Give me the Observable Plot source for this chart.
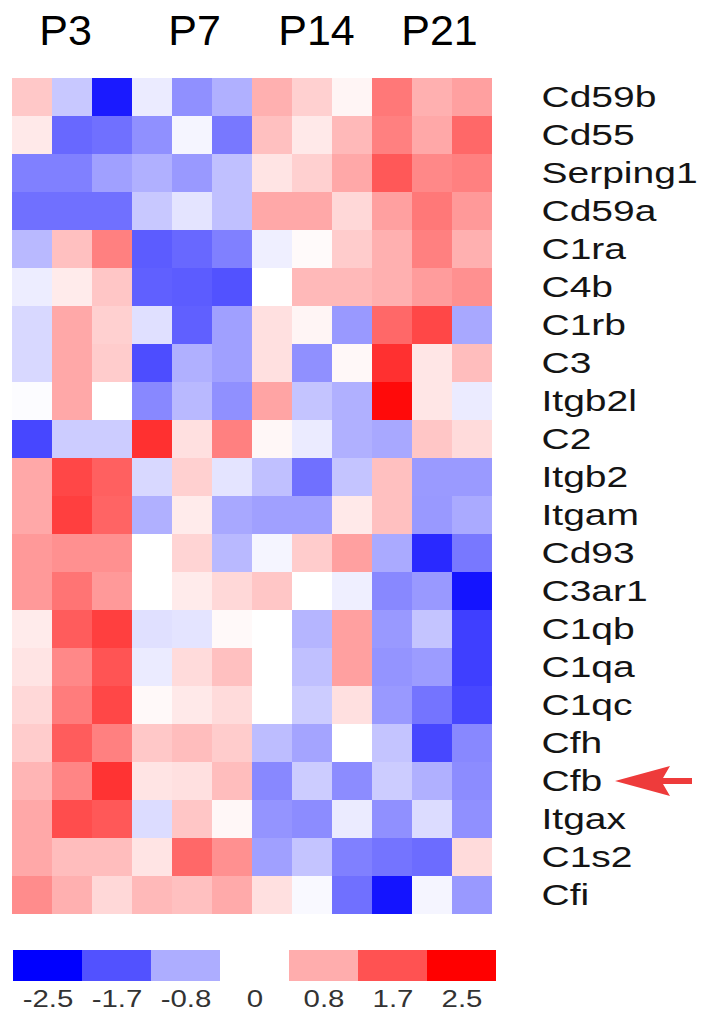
<!DOCTYPE html>
<html>
<head>
<meta charset="utf-8">
<script src="https://cdn.jsdelivr.net/npm/d3@7"></script>
<script src="https://cdn.jsdelivr.net/npm/@observablehq/plot@0.6"></script>
<style>
  html, body { margin: 0; padding: 0; background: #ffffff; }
  #chart { width: 709px; }
  #chart svg { display: block; }
</style>
</head>
<body>
<div id="chart"></div>
<script>
// ---- data ----
const groups = ["P3", "P7", "P14", "P21"];
const samples = ["P3_1","P3_2","P3_3","P7_1","P7_2","P7_3","P14_1","P14_2","P14_3","P21_1","P21_2","P21_3"];
const genes = ["Cd59b","Cd55","Serping1","Cd59a","C1ra","C4b","C1rb","C3","Itgb2l","C2",
               "Itgb2","Itgam","Cd93","C3ar1","C1qb","C1qa","C1qc","Cfh","Cfb","Itgax","C1s2","Cfi"];
const expr = [
  [ 0.54,-0.54,-2.25,-0.20,-1.09,-0.77, 0.77, 0.46, 0.10, 1.32, 0.77, 0.93],
  [ 0.22,-1.48,-1.40,-1.09,-0.10,-1.32, 0.62, 0.22, 0.69, 1.25, 0.85, 1.48],
  [-1.25,-1.25,-0.93,-0.77,-1.00,-0.62, 0.26, 0.46, 0.85, 1.64, 1.17, 1.25],
  [-1.40,-1.40,-1.40,-0.54,-0.26,-0.62, 0.85, 0.85, 0.38, 0.93, 1.32, 1.00],
  [-0.69, 0.62, 1.25,-1.60,-1.48,-1.25,-0.16, 0.05, 0.50, 0.77, 1.25, 0.77],
  [-0.18, 0.20, 0.56,-1.56,-1.60,-1.70, 0.00, 0.69, 0.69, 0.77, 0.97, 1.09],
  [-0.38, 0.85, 0.46,-0.30,-1.56,-0.93, 0.30, 0.10,-1.00, 1.48, 1.80,-0.85],
  [-0.38, 0.85, 0.50,-1.75,-0.77,-0.93, 0.30,-1.09, 0.07, 2.03, 0.25, 0.65],
  [-0.03, 0.85, 0.00,-1.17,-0.69,-1.09, 0.89,-0.58,-0.77, 2.40, 0.25,-0.20],
  [-1.80,-0.50,-0.50, 2.03, 0.30, 1.25, 0.08,-0.20,-0.77,-0.85, 0.56, 0.35],
  [ 0.85, 1.80, 1.56,-0.38, 0.46,-0.26,-0.62,-1.40,-0.58, 0.62,-0.99,-0.99],
  [ 0.85, 1.88, 1.52,-0.77, 0.20,-0.85,-0.93,-0.93, 0.22, 0.62,-1.00,-0.83],
  [ 1.00, 1.09, 1.09, 0.00, 0.42,-0.69,-0.10, 0.50, 0.93,-0.83,-2.10,-1.32],
  [ 1.00, 1.36, 1.00, 0.00, 0.20, 0.38, 0.56, 0.00,-0.16,-1.17,-1.00,-2.30],
  [ 0.20, 1.60, 1.88,-0.30,-0.26, 0.06, 0.00,-0.73, 0.93,-1.00,-0.58,-1.88],
  [ 0.26, 1.17, 1.68,-0.20, 0.35, 0.62, 0.00,-0.62, 0.93,-1.05,-0.97,-1.88],
  [ 0.38, 1.28, 1.80, 0.06, 0.22, 0.35, 0.00,-0.50, 0.30,-1.00,-1.36,-1.80],
  [ 0.50, 1.60, 1.25, 0.54, 0.65, 0.50,-0.65,-0.89, 0.00,-0.58,-1.80,-1.17],
  [ 0.73, 1.20, 2.00, 0.26, 0.30, 0.65,-1.17,-0.50,-1.13,-0.50,-0.77,-1.13],
  [ 0.85, 1.75, 1.64,-0.34, 0.56, 0.08,-1.05,-1.13,-0.20,-1.09,-0.34,-1.09],
  [ 0.85, 0.65, 0.65, 0.26, 1.48, 1.09,-0.93,-0.58,-1.25,-1.36,-1.44, 0.35],
  [ 1.13, 0.77, 0.38, 0.69, 0.62, 0.83, 0.30,-0.06,-1.40,-2.30,-0.10,-1.00]
];
const legendValues = [-2.5, -1.7, -0.8, 0, 0.8, 1.7, 2.5];
const markedGene = "Cfb";

// ---- build table ----
const cells = [];
genes.forEach((g, r) => samples.forEach((s, c) => cells.push({gene: g, sample: s, value: expr[r][c]})));

const colorScale = {
  type: "linear",
  domain: [-2.5, 0, 2.5],
  range: ["#0000ff", "#ffffff", "#ff0000"],
  interpolate: "rgb",
  clamp: true
};
const font = "'Liberation Sans', Arial, Helvetica, sans-serif";
const headerShift = [-7, 2, 4, 7];

function stretch(nodes, k) {
  nodes.forEach(t => {
    const x = t.getAttribute("x");
    if (x != null) t.setAttribute("x", (+x) / k);
    const tr = t.getAttribute("transform") || "";
    t.setAttribute("transform", (tr + ` scale(${k},1)`).trim());
  });
}

// arrow annotation pointing at the marked gene
function arrowMark(index, scales, values, dims) {
  const yc = scales.y(markedGene) + scales.y.bandwidth() / 2;
  const x0 = dims.width - dims.marginRight;
  const tip = x0 + 123, head = x0 + 178, back = x0 + 171, tail = x0 + 200;
  const p = d3.path();
  p.moveTo(tip, yc);
  p.lineTo(head, yc - 15);
  p.lineTo(back, yc - 3);
  p.lineTo(tail, yc - 3);
  p.lineTo(tail, yc + 3);
  p.lineTo(back, yc + 3);
  p.lineTo(head, yc + 15);
  p.closePath();
  const el = d3.create("svg:path").attr("d", p.toString()).attr("fill", "#ee3b3b");
  return el.node();
}

const heat = Plot.plot({
  width: 709,
  height: 930,
  marginLeft: 12,
  marginRight: 217,
  marginTop: 72,
  marginBottom: 11,
  style: {fontFamily: font, color: "#141414", background: "#ffffff"},
  x: {type: "band", domain: samples, padding: 0, axis: null},
  y: {type: "band", domain: genes, padding: 0},
  color: colorScale,
  marks: [
    Plot.cell(cells, {x: "sample", y: "gene", fill: "value", inset: 0, shapeRendering: "crispEdges"}),
    Plot.axisY({anchor: "right", tickSize: 0, tickPadding: 49, fontSize: 30, label: null, fill: "#141414"}),
    ...groups.map((g, i) => Plot.text([g], {
      x: () => samples[i * 3 + 1],
      frameAnchor: "top",
      lineAnchor: "bottom",
      dy: -28,
      dx: headerShift[i],
      text: d => d,
      fontSize: 43,
      fill: "#000000"
    })),
    arrowMark
  ]
});

const legend = Plot.plot({
  width: 709,
  height: 89,
  marginLeft: 11,
  marginRight: 212,
  marginTop: 20,
  marginBottom: 38,
  style: {fontFamily: font, color: "#333333", background: "#ffffff"},
  x: {type: "band", domain: legendValues, padding: 0, axis: null},
  color: colorScale,
  marks: [
    Plot.cell(legendValues.filter(v => v !== 0), {x: d => d, fill: d => d, inset: 0, shapeRendering: "crispEdges"}),
    Plot.text(legendValues, {x: d => d, frameAnchor: "bottom", lineAnchor: "middle", dy: 18,
      text: d => String(d), fontSize: 23, fill: "#333333"})
  ]
});

const root = document.getElementById("chart");
root.appendChild(heat);
root.appendChild(legend);

stretch(Array.from(heat.querySelectorAll('g[aria-label="y-axis tick label"] text')), 1.3);
stretch(Array.from(legend.querySelectorAll('text')), 1.28);
</script>
</body>
</html>
